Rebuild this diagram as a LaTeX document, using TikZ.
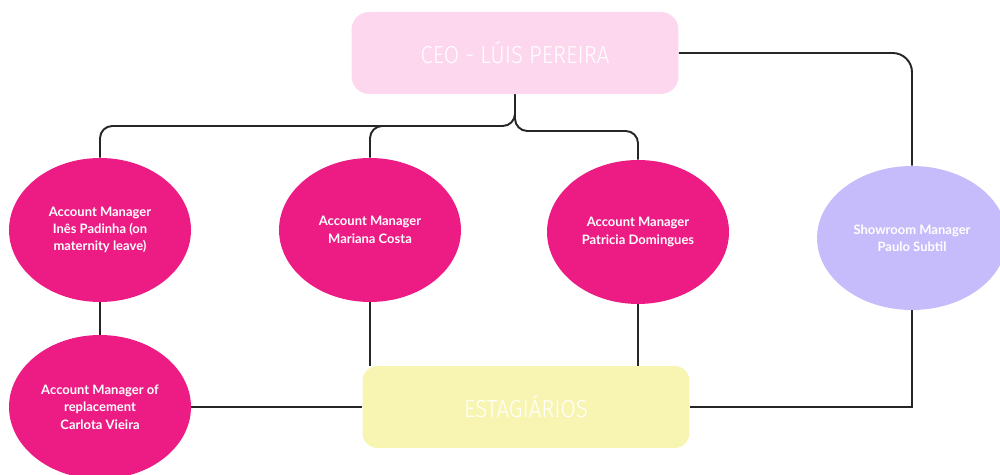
\documentclass[tikz,border=0pt]{standalone}
\usepackage{fontspec}
\setmainfont{Lato}
\newfontfamily\titlefont[FakeStretch=0.9]{Fira Sans Light}
\usetikzlibrary{shapes.geometric, calc}
\definecolor{ceopink}{HTML}{FDD7EE}
\definecolor{ampink}{HTML}{EC1C84}
\definecolor{showlilac}{HTML}{C7BCFB}
\definecolor{internyellow}{HTML}{F8F5B3}
\definecolor{linegray}{HTML}{262626}
\tikzset{
  titlebox/.style={rectangle, rounded corners=10pt, fill=ceopink, text=white,
                   minimum width=6.54cm, minimum height=1.64cm, inner sep=0pt,
                   font=\titlefont\fontsize{14}{16}\selectfont},
  internbox/.style={titlebox, fill=internyellow, rounded corners=8.5pt},
  ambubble/.style={ellipse, fill=ampink, minimum width=3.64cm, minimum height=2.88cm,
                   inner sep=0pt, text=white, align=center,
                   font=\bfseries\fontsize{7.4}{9.9}\selectfont},
  showbubble/.style={ambubble, fill=showlilac, minimum width=3.8cm},
  link/.style={draw=linegray, line width=1.1pt, rounded corners=7pt},
}

\begin{document}
\begin{tikzpicture}[x=0.02cm, y=-0.02cm]

  \useasboundingbox (0,0) rectangle (1000,475);

  %% Top: CEO
  \node[titlebox] (ceo) at (515,53) {CEO - LÚIS PEREIRA};

  %% Row 1: account managers and showroom
  \node[ambubble] (ines) at (100,230)
    {Account Manager\\Inês Padinha (on\\maternity leave)};
  \node[ambubble] (mariana) at (370,230) {Account Manager\\Mariana Costa};
  \node[ambubble] (patricia) at (638,232) {Account Manager\\Patricia Domingues};
  \node[showbubble] (showroom) at (912,238) {Showroom Manager\\Paulo Subtil};

  %% Row 2: replacement and interns
  \node[ambubble] (carlota) at (100,407)
    {Account Manager of\\replacement\\Carlota Vieira};
  \node[internbox] (interns) at (526,407) {ESTAGIÁRIOS};

  %% CEO branches
  \coordinate (split) at (515,126);
  \draw[link] (ceo.south) -- (split) -- (ines.north |- split) -- (ines.north);
  \draw[link] ($(mariana.north |- split)+(25,0)$) -- (mariana.north |- split)
    -- (mariana.north);
  \draw[link] (ceo.south) -- ($(ceo.south |- split)+(0,5)$)
    -- ($(patricia.north |- split)+(0,5)$) -- (patricia.north);
  \draw[link, rounded corners=11pt] (ceo.east) -| (showroom.north);

  %% Lower links
  \draw[link] (ines.south) -- (carlota.north);
  \draw[link] (mariana.south) -- (mariana.south |- interns.north);
  \draw[link] (patricia.south) -- (patricia.south |- interns.north);
  \draw[link] (carlota.east) -- (interns.west);
  \draw[link, rounded corners=0pt] (interns.east) -| (showroom.south);

\end{tikzpicture}
\end{document}
